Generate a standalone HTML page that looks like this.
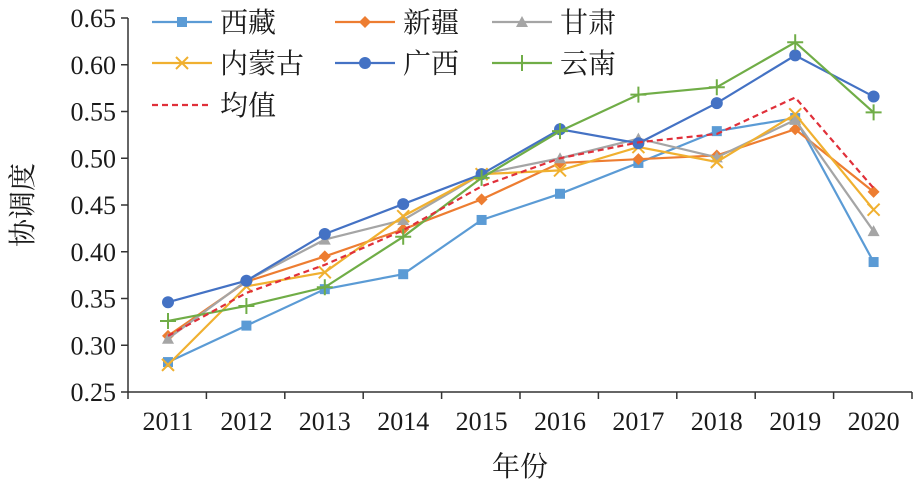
<!DOCTYPE html>
<html><head><meta charset="utf-8"><style>
body{margin:0;background:#fff}
svg text{font-family:"Liberation Serif","Noto Serif CJK SC",serif;fill:#1a1a1a}
</style></head><body>
<svg id="c" width="918" height="488" xmlns="http://www.w3.org/2000/svg"></svg>
<script>
const s=document.getElementById('c');let h='';
const Y=v=>392-(v-0.25)/0.05*46.75, X=i=>168+i*78.4;
h+='<line x1="128" y1="18" x2="128" y2="392" stroke="#333" stroke-width="1.5"/>';
h+='<line x1="128" y1="392" x2="912" y2="392" stroke="#333" stroke-width="1.5"/>';
for(let k=0;k<=8;k++){const v=0.25+k*0.05,y=Y(v);h+=`<line x1="121" y1="${y}" x2="128" y2="${y}" stroke="#333" stroke-width="1.5"/><text x="116" y="${y+9}" font-size="26" text-anchor="end">${v.toFixed(2)}</text>`;}
for(let i=0;i<=10;i++){const x=128+i*78.4;h+=`<line x1="${x}" y1="392" x2="${x}" y2="399" stroke="#333" stroke-width="1.5"/>`;}
for(let i=0;i<10;i++)h+=`<text x="${X(i)}" y="430" font-size="26" text-anchor="middle">${2011+i}</text>`;
h+='<text x="520" y="476" font-size="28" text-anchor="middle">年份</text>';
h+='<text transform="translate(32,205) rotate(-90)" font-size="28" text-anchor="middle">协调度</text>';
const S=[
['西藏','#5B9BD5','sq',[.282,.321,.360,.376,.434,.462,.495,.529,.543,.389]],
['新疆','#ED7D31','di',[.310,.368,.395,.424,.456,.495,.499,.503,.531,.464]],
['甘肃','#A5A5A5','tr',[.307,.369,.413,.434,.483,.500,.521,.501,.541,.422]],
['内蒙古','#F0B030','x',[.279,.363,.378,.438,.483,.487,.512,.496,.547,.445]],
['广西','#4472C4','ci',[.346,.369,.419,.451,.483,.531,.516,.559,.610,.566]],
['云南','#70AD47','pl',[.326,.342,.362,.416,.479,.529,.568,.576,.624,.549]],
['均值','#E0303A','da',[.310,.356,.386,.423,.470,.500,.517,.526,.565,.468]]];
function mk(t,c,x,y){
 if(t=='sq')return `<rect x="${x-5}" y="${y-5}" width="10" height="10" fill="${c}"/>`;
 if(t=='di')return `<polygon points="${x},${y-6} ${x+6},${y} ${x},${y+6} ${x-6},${y}" fill="${c}"/>`;
 if(t=='tr')return `<polygon points="${x},${y-6} ${x+6},${y+5} ${x-6},${y+5}" fill="${c}"/>`;
 if(t=='ci')return `<circle cx="${x}" cy="${y}" r="6" fill="${c}"/>`;
 if(t=='x')return `<path d="M${x-6} ${y-6}L${x+6} ${y+6}M${x+6} ${y-6}L${x-6} ${y+6}" stroke="${c}" stroke-width="2"/>`;
 if(t=='pl')return `<path d="M${x-8} ${y}H${x+8}M${x} ${y-8}V${y+8}" stroke="${c}" stroke-width="2"/>`;
 return '';}
S.forEach(([n,c,t,d])=>{
 const pts=d.map((v,i)=>X(i)+','+Y(v)).join(' ');
 h+=`<polyline points="${pts}" fill="none" stroke="${c}" stroke-width="2.2" ${t=='da'?'stroke-dasharray="6,4"':''}/>`;
 d.forEach((v,i)=>h+=mk(t,c,X(i),Y(v)));
});
const L=[[152,22],[335,22],[492,22],[152,63],[335,63],[492,63],[152,105]];
S.forEach(([n,c,t],k)=>{const [x,y]=L[k];
 h+=`<line x1="${x}" y1="${y}" x2="${x+60}" y2="${y}" stroke="${c}" stroke-width="2.2" ${t=='da'?'stroke-dasharray="6,4"':''}/>`+mk(t,c,x+30,y)+`<text x="${x+68}" y="${y+10}" font-size="28">${n}</text>`;});
s.innerHTML=h;
</script>
</body></html>
